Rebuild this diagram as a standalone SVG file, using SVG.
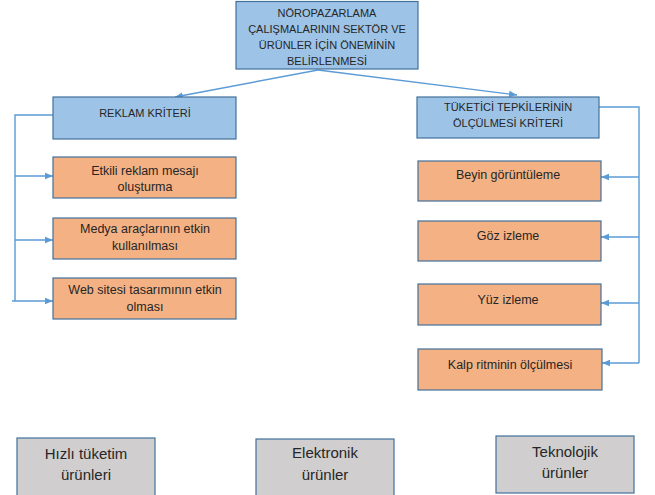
<svg xmlns="http://www.w3.org/2000/svg" width="655" height="495" viewBox="0 0 655 495">
<style>
  text { font-family: "Liberation Sans", Arial, sans-serif; fill: #262626; text-anchor: middle; }
  .blue { fill: #9DC3E6; stroke: #41719C; stroke-width: 1.2; }
  .orange { fill: #F4B183; stroke: #41719C; stroke-width: 1.2; }
  .gray { fill: #D0CECE; stroke: #41719C; stroke-width: 1.2; }
  .caps { font-size: 11px; }
  .item { font-size: 12.5px; }
  .prod { font-size: 15px; }
  .conn { fill: none; stroke: #5B9BD5; stroke-width: 1.4; }
</style>
<defs>
  <marker id="arr" markerUnits="userSpaceOnUse" markerWidth="9" markerHeight="8" refX="8" refY="4" orient="auto">
    <path d="M0,0.8 L8,4 L0,7.2 Z" fill="#5B9BD5"/>
  </marker>
</defs>
<rect width="655" height="495" fill="#FFFFFF"/>

<g id="connectors">
  <path class="conn" d="M318,70 L175,97" marker-end="url(#arr)"/>
  <path class="conn" d="M318,70 L517,95" marker-end="url(#arr)"/>
  <path class="conn" d="M53,115 H15 V301"/>
  <path class="conn" d="M15,176 H53" marker-end="url(#arr)"/>
  <path class="conn" d="M15,240 H53" marker-end="url(#arr)"/>
  <path class="conn" d="M12,301 H53" marker-end="url(#arr)"/>
  <path class="conn" d="M599,107 H639 V363"/>
  <path class="conn" d="M639,177 H601" marker-end="url(#arr)"/>
  <path class="conn" d="M639,237 H601" marker-end="url(#arr)"/>
  <path class="conn" d="M639,303 H601" marker-end="url(#arr)"/>
  <path class="conn" d="M639,363 H602" marker-end="url(#arr)"/>
</g>

<g id="root">
  <rect class="blue" x="236" y="1.5" width="182" height="67.5"/>
  <text class="caps" x="327" y="17">NÖROPAZARLAMA</text>
  <text class="caps" x="327" y="33">ÇALIŞMALARININ SEKTÖR VE</text>
  <text class="caps" x="327" y="49">ÜRÜNLER İÇİN ÖNEMİNİN</text>
  <text class="caps" x="327" y="65">BELİRLENMESİ</text>
</g>

<g id="reklam">
  <rect class="blue" x="53" y="97" width="183" height="42"/>
  <text class="caps" x="145" y="117">REKLAM KRİTERİ</text>
</g>
<g id="etkili">
  <rect class="orange" x="53" y="157" width="183" height="41"/>
  <text class="item" x="145" y="174.5">Etkili reklam mesajı</text>
  <text class="item" x="145" y="190.5">oluşturma</text>
</g>
<g id="medya">
  <rect class="orange" x="53" y="218" width="183" height="41"/>
  <text class="item" x="145" y="232.5">Medya araçlarının etkin</text>
  <text class="item" x="145" y="249.5">kullanılması</text>
</g>
<g id="web">
  <rect class="orange" x="53" y="278" width="183" height="41"/>
  <text class="item" x="145" y="293.5">Web sitesi tasarımının etkin</text>
  <text class="item" x="145" y="310.5">olması</text>
</g>

<g id="tuketici">
  <rect class="blue" x="417" y="97" width="182" height="41"/>
  <text class="caps" x="508" y="111">TÜKETİCİ TEPKİLERİNİN</text>
  <text class="caps" x="508" y="127">ÖLÇÜLMESİ KRİTERİ</text>
</g>
<g id="beyin">
  <rect class="orange" x="418" y="161" width="183" height="40"/>
  <text class="item" x="508" y="178.5">Beyin görüntüleme</text>
</g>
<g id="goz">
  <rect class="orange" x="418" y="221" width="183" height="40"/>
  <text class="item" x="508" y="239.5">Göz izleme</text>
</g>
<g id="yuz">
  <rect class="orange" x="418" y="284" width="183" height="41"/>
  <text class="item" x="508" y="303.5">Yüz izleme</text>
</g>
<g id="kalp">
  <rect class="orange" x="418" y="349" width="184" height="41"/>
  <text class="item" x="510" y="368.5">Kalp ritminin ölçülmesi</text>
</g>

<g id="hizli">
  <rect class="gray" x="17" y="438" width="138" height="58"/>
  <text class="prod" x="86" y="459">Hızlı tüketim</text>
  <text class="prod" x="86" y="480">ürünleri</text>
</g>
<g id="elektronik">
  <rect class="gray" x="256" y="439" width="138" height="58"/>
  <text class="prod" x="325" y="458">Elektronik</text>
  <text class="prod" x="325" y="480">ürünler</text>
</g>
<g id="teknolojik">
  <rect class="gray" x="496" y="436" width="138" height="57"/>
  <text class="prod" x="565" y="457">Teknolojik</text>
  <text class="prod" x="565" y="478">ürünler</text>
</g>
</svg>
